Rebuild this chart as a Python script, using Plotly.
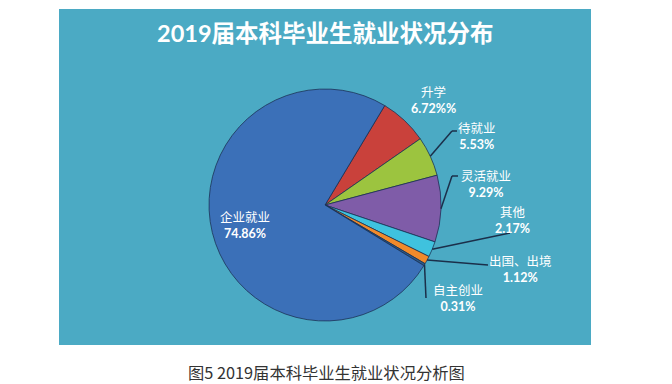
import math
import plotly.graph_objects as go

# ---- data ----
categories = ["升学", "待就业", "灵活就业", "其他", "出国、出境", "自主创业", "企业就业"]
values = [6.72, 5.53, 9.29, 2.17, 1.12, 0.31, 74.86]
pct_text = ["6.72%%", "5.53%", "9.29%", "2.17%", "1.12%", "0.31%", "74.86%"]
colors = ["#C9413B", "#9CC43F", "#7F5CA8", "#3FC2DE", "#F08A2B", "#2E5C8A", "#3B70B8"]

title_text = "2019届本科毕业生就业状况分布"
caption_text = "图5 2019届本科毕业生就业状况分析图"

W, H = 672, 384
cx, cy, R = 325, 205, 116
rotation = 31

def px(x):
    return x / W

def py(y):
    return 1 - y / H

fig = go.Figure()
fig.add_trace(go.Pie(
    labels=categories,
    values=values,
    sort=False,
    direction="clockwise",
    rotation=rotation,
    marker=dict(colors=colors, line=dict(color="rgba(25,45,80,0.75)", width=1)),
    textinfo="none",
    hoverinfo="label+percent",
    showlegend=False,
    domain=dict(x=[px(cx - R), px(cx + R)], y=[py(cy + R), py(cy - R)]),
))

shapes = [
    dict(type="rect", xref="paper", yref="paper",
         x0=px(59), x1=px(591), y0=py(345), y1=py(9),
         fillcolor="#4BAAC4", line=dict(width=0), layer="below"),
]

# label positions (pixel centres) and leader elbow/end points
label_pos = {
    "升学": (433, 100, None),
    "待就业": (477, 137, [(452, 131), (457, 131)]),
    "灵活就业": (486, 185, [(452, 176), (458, 176)]),
    "其他": (512, 220, [(510, 233)]),
    "出国、出境": (520, 269, [(488, 265)]),
    "自主创业": (458, 298, [(426, 298)]),
    "企业就业": (245, 225, None),
}

total = sum(values)
cum = 0.0
annotations = []
font_fam = "Lato, 'Noto Sans CJK SC', sans-serif"
for cat, v, t in zip(categories, values, pct_text):
    mid = math.radians(rotation + 360 * (cum + v / 2) / total)
    cum += v
    lx, ly, path = label_pos[cat]
    if path:
        sx = cx + R * math.sin(mid)
        sy = cy - R * math.cos(mid)
        pts = [(sx, sy)] + path
        for (x0, y0), (x1, y1) in zip(pts[:-1], pts[1:]):
            shapes.append(dict(type="line", xref="paper", yref="paper",
                               x0=px(x0), y0=py(y0), x1=px(x1), y1=py(y1),
                               line=dict(color="#1B2F4A", width=1.5), layer="above"))
    annotations.append(dict(
        x=px(lx), y=py(ly), xref="paper", yref="paper",
        text=f"{cat}<br><b>{t}</b>", showarrow=False, align="center",
        xanchor="center", yanchor="middle",
        font=dict(family=font_fam, size=12.5, color="white"),
    ))

annotations.append(dict(
    x=px(325), y=py(33), xref="paper", yref="paper",
    text=f"<b>{title_text}</b>", showarrow=False,
    xanchor="center", yanchor="middle",
    font=dict(family=font_fam, size=23.5, color="white"),
))
annotations.append(dict(
    x=px(326), y=py(372), xref="paper", yref="paper",
    text=caption_text, showarrow=False,
    xanchor="center", yanchor="middle",
    font=dict(family="'Noto Sans CJK SC', sans-serif", size=16.3, color="#333333"),
))

fig.update_layout(
    width=W, height=H,
    margin=dict(l=0, r=0, t=0, b=0),
    paper_bgcolor="white",
    plot_bgcolor="white",
    shapes=shapes,
    annotations=annotations,
)

fig.write_html("out.html",
               config={"displayModeBar": False},
               post_script="document.body.style.margin='0';document.body.style.overflow='hidden';")
